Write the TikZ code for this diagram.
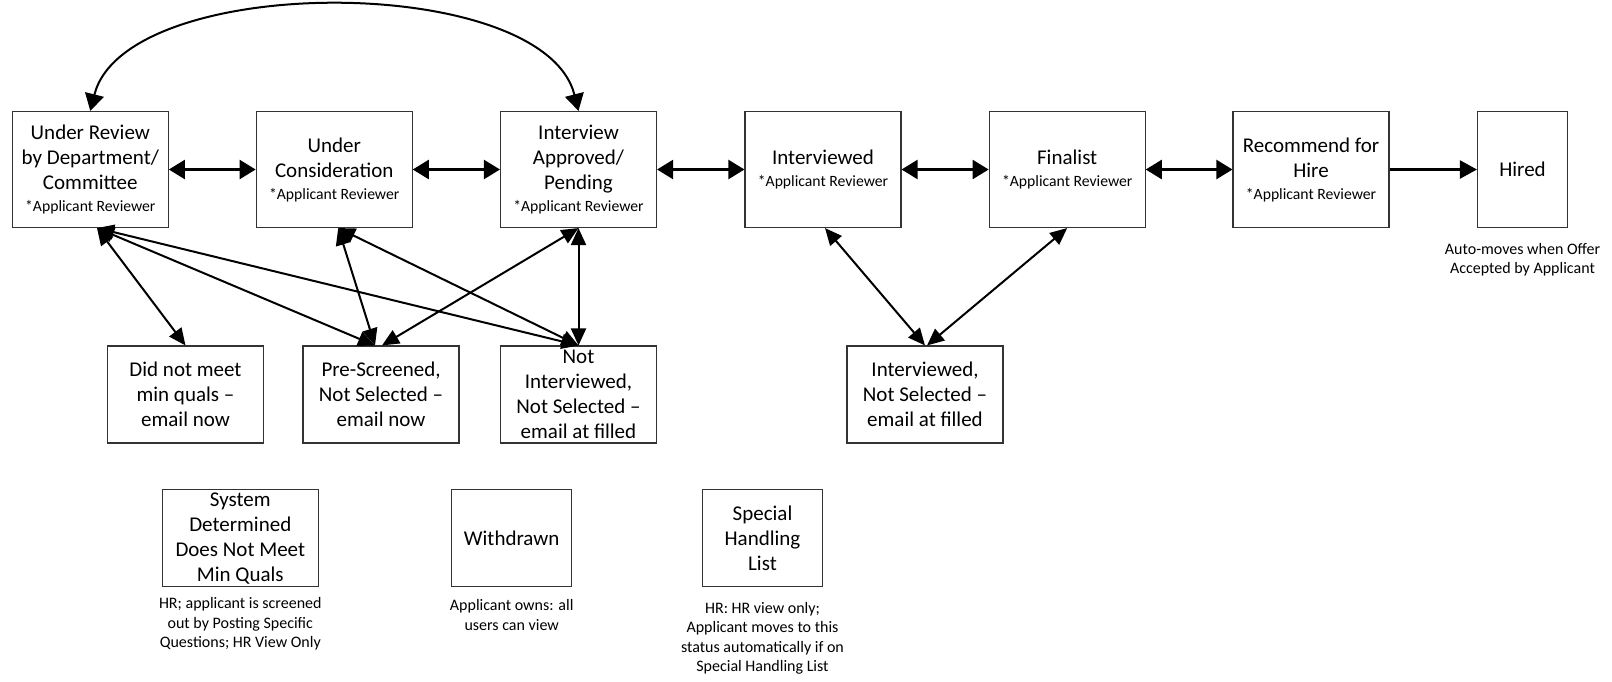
\documentclass[tikz,border=0pt]{standalone}
\usepackage{fontspec}
\setmainfont{Carlito}
\usetikzlibrary{arrows.meta}
\tikzset{
  box/.style={draw=black!80, line width=1.1pt, fill=white, minimum width=156pt, minimum height=116pt,
    inner sep=0pt, align=center, font=\fontsize{21}{25}\selectfont},
  lowbox/.style={box, minimum height=97pt},
  smallbox/.style={box, minimum width=120pt, minimum height=97pt},
  note/.style={align=center, inner sep=0pt, font=\fontsize{16}{19.5}\selectfont},
  hconn/.style={line width=2.2pt, {Triangle[length=16pt,width=19pt]}-{Triangle[length=16pt,width=19pt]}},
  arcconn/.style={line width=2pt, {Triangle[length=17pt,width=19pt]}-{Triangle[length=17pt,width=19pt]}},
  dconn/.style={line width=2pt, {Triangle[length=17pt,width=15pt]}-{Triangle[length=17pt,width=15pt]}},
  oneway/.style={line width=2.2pt, -{Triangle[length=17pt,width=18pt]}},
}
\newcommand{\appRev}{\\[-3pt]{\fontsize{15.7}{19}\selectfont *Applicant Reviewer}}
\begin{document}
\begin{tikzpicture}[x=1pt,y=-1pt]
\useasboundingbox (0,0) rectangle (1612,681);
% top row
\node[box] (A) at (90.3,169.5) {Under Review\\by Department/\\Committee\appRev};
\node[box] (B) at (334.2,169.5) {Under\\Consideration\appRev};
\node[box] (C) at (578.5,169.5) {Interview\\Approved/\\Pending\appRev};
\node[box] (D) at (823,169.5) {Interviewed\appRev};
\node[box] (E) at (1067.2,169.5) {Finalist\appRev};
\node[box] (F) at (1311,169.5) {Recommend for\\Hire\appRev};
\node[box, minimum width=90pt] (H) at (1522.5,169.5) {Hired};
\node[note] (Hn) at (1522.5,259.7) {Auto-moves when Offer\\Accepted by Applicant};
% second row
\node[lowbox] (DNM) at (185.5,394.5) {Did not meet\\min quals –\\email now};
\node[lowbox] (PS) at (381,394.5) {Pre-Screened,\\Not Selected –\\email now};
\node[lowbox] (NI) at (578.5,394.5) {Not\\Interviewed,\\Not Selected –\\email at filled};
\node[lowbox] (INS) at (925,394.5) {Interviewed,\\Not Selected –\\email at filled};
% third row
\node[lowbox] (SYS) at (240.3,538.3) {System\\Determined\\Does Not Meet\\Min Quals};
\node[smallbox] (WD) at (511.7,538.3) {Withdrawn};
\node[smallbox] (SHL) at (762.5,538.3) {Special\\Handling\\List};
\node[note] (SYSn) at (240.3,624) {HR; applicant is screened\\out by Posting Specific\\Questions; HR View Only};
\node[note] (WDn) at (511.7,615) {Applicant owns: all\\users can view};
\node[note] (SHLn) at (762.5,638.5) {HR: HR view only;\\Applicant moves to this\\status automatically if on\\Special Handling List};
% horizontal connectors
\draw[hconn] (A) -- (B);
\draw[hconn] (B) -- (C);
\draw[hconn] (C) -- (D);
\draw[hconn] (D) -- (E);
\draw[hconn] (E) -- (F);
\draw[oneway] (F) -- (H);
% arc
\draw[arcconn] (A.north) .. controls +(35,-139) and +(-35,-139) .. (C.north);
% diagonals
\draw[dconn] ([xshift=6.7pt]A.south) -- (DNM.north);
\draw[dconn] ([xshift=6.7pt]A.south) -- ([xshift=-6pt]PS.north);
\draw[dconn] ([xshift=6.7pt]A.south) -- (NI.north);
\draw[dconn] ([xshift=4pt]B.south) -- ([xshift=-6pt]PS.north);
\draw[dconn] ([xshift=4pt]B.south) -- (NI.north);
\draw[dconn] (C.south) -- ([xshift=1pt]PS.north);
\draw[dconn] (C.south) -- (NI.north);
\draw[dconn] ([xshift=2pt]D.south) -- (INS.north);
\draw[dconn] (E.south) -- ([xshift=2pt]INS.north);
\end{tikzpicture}
\end{document}
